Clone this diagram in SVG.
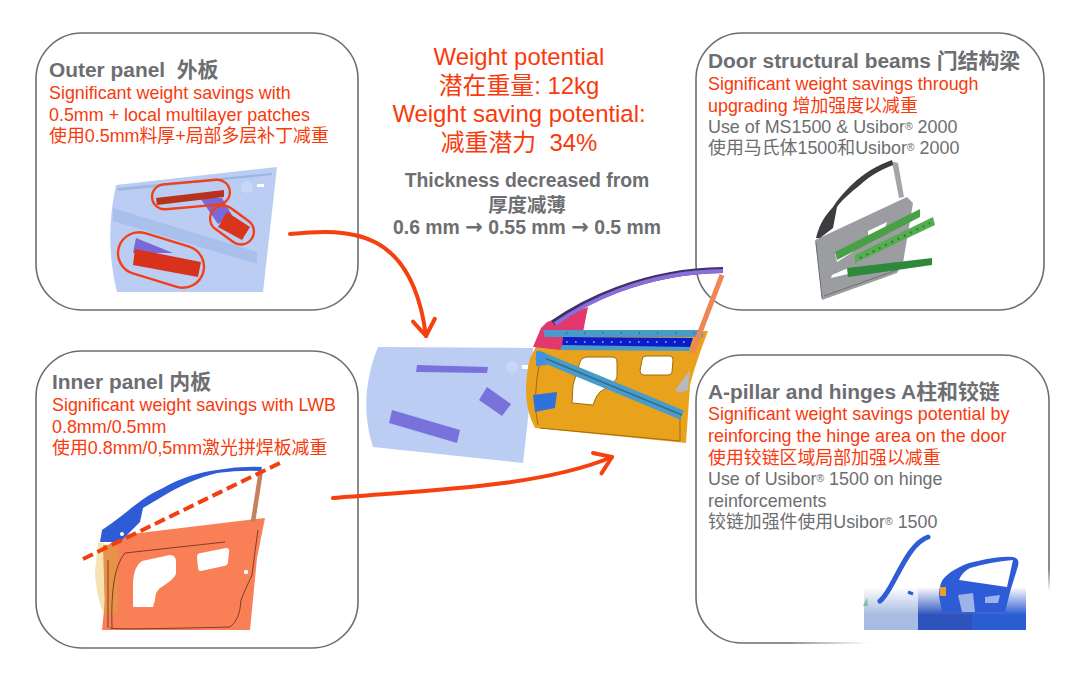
<svg xmlns="http://www.w3.org/2000/svg" width="1080" height="683" viewBox="0 0 1080 683">
<style>
text{font-family:"Liberation Sans","Noto Sans CJK SC",sans-serif}
.box{fill:#fff;stroke:#6d6e71;stroke-width:1.6}
.title{font-size:20.9px;font-weight:700;fill:#6d6e71}
.red{font-size:17.9px;fill:#f83a0c}
.gray{font-size:17.9px;fill:#6d6e71}
.big{font-size:23.9px;fill:#f83a0c;text-anchor:middle}
.thick{font-size:19.4px;font-weight:700;fill:#6d6e71;text-anchor:middle}
.arw{font-family:"DejaVu Sans",sans-serif;font-size:21px}
.sup{font-size:10.5px;baseline-shift:30%}
.ring{fill:none;stroke:#f0401a;stroke-width:2.4}
.conn{fill:none;stroke:#f5400f;stroke-width:4;stroke-linecap:round}
.img{filter:url(#soft)}
.hole{fill:#fff;stroke-linejoin:round}
</style>
<defs>
<filter id="soft" x="-5%" y="-5%" width="110%" height="110%"><feGaussianBlur stdDeviation="0.5"/></filter>
<marker id="chev" markerUnits="userSpaceOnUse" markerWidth="34" markerHeight="34" refX="22" refY="17" orient="auto">
<path d="M6,6 L22,17 L6,28" fill="none" stroke="#f5400f" stroke-width="4" stroke-linecap="round" stroke-linejoin="round"/>
</marker>
<linearGradient id="fadeStroke" gradientUnits="userSpaceOnUse" x1="800" y1="640" x2="806" y2="661">
<stop offset="0" stop-color="#6d6e71"/><stop offset="1" stop-color="#fff"/>
</linearGradient>
<linearGradient id="fadeTop" x1="0" y1="0" x2="0" y2="1">
<stop offset="0" stop-color="#fff" stop-opacity="1"/><stop offset="1" stop-color="#fff" stop-opacity="0"/>
</linearGradient>
</defs>

<g id="node-outer-panel">
<rect class="box" x="36" y="33" width="322" height="277" rx="46"/>
<g class="img">
<path d="M116,185 L277,167 Q270,230 263,292 L117,292 Q104,240 116,185Z" fill="#bccdf3"/>
<path d="M117,188 L272,173 L272,175 L118,191Z" fill="#9db7e2"/>
<path d="M113,208 L257,252 L257,264 L113,221Z" fill="#a9c0ea"/>
<circle cx="247" cy="187" r="6" fill="#c9d7f6"/>
<rect x="257" y="184" width="7" height="3" fill="#fff"/>
<path d="M200,198 L222,198 L232,215 L218,224Z" fill="#7a68d8"/>
<path d="M136,238 L173,253 L133,253Z" fill="#7a68d8"/>
<path d="M156,198 L224,190 L224,197 L157,205Z" fill="#b9301f"/>
<path d="M227,212 L250,227 L242,240 L218,227Z" fill="#d8351a"/>
<path d="M135,249 L201,262 L198,277 L133,265Z" fill="#d8301a"/>
</g>
<rect class="ring" x="152" y="182" width="78" height="25" rx="12.5" transform="rotate(-5 191 195)"/>
<rect class="ring" x="208" y="212" width="48" height="26" rx="13" transform="rotate(36 232 225)"/>
<rect class="ring" x="117" y="239" width="88" height="42" rx="21" transform="rotate(17 161 260)"/>
<text class="title" x="49" y="77" xml:space="preserve">Outer panel  外板</text>
<text class="red" x="49" y="99">Significant weight savings with</text>
<text class="red" x="49" y="121">0.5mm + local multilayer patches</text>
<text class="red" x="49" y="142">使用0.5mm料厚+局部多层补丁减重</text>
</g>

<g id="node-inner-panel">
<rect class="box" x="36" y="351" width="322" height="297" rx="46"/>
<g class="img">
<path d="M95,572 L98,542 L108,545 L107,612 L103,612 Q96,595 95,572Z" fill="#f6e3b4"/>
<path d="M102,630 L250,630 L257,558 L265,518 L123,535 L108,545 L105,600Z" fill="#f98057"/>
<path d="M103,545 L118,545 L118,612 L105,615Z" fill="#e8924a"/>
<path class="hole" d="M133,607 L133,582 Q134,566 142,561 L170,555 Q176,555 176,562 L176,573 Q176,578 160,588 Q155,592 155,600 L153,607Z"/>
<path class="hole" d="M197,557 Q197,553 201,553 L226,548 Q230,548 229,552 L228,562 Q228,565 224,566 L201,571 Q198,571 198,568Z"/>
<path d="M108,628 L108,560 M112,628 Q110,570 125,553 L225,542 M110,628 Q112,630 230,627 Q240,620 241,600 Q245,590 252,575 Q255,550 258,530" fill="none" stroke="#6e3524" stroke-width="0.9"/>
<path d="M253,522 L261,470" fill="none" stroke="#c4805f" stroke-width="4.5"/>
<path d="M102,530 C125,515 140,498 163,488 C180,478 200,472 217,470 Q240,466 262,467 L261,471 Q240,470 217,473 C200,477 185,484 170,492 L143,508 L140,522 L120,542 L100,542Z" fill="#2e5bd6"/>
<circle cx="122" cy="534" r="2" fill="#fff"/>
<circle cx="246" cy="572" r="2.2" fill="#fff"/>
</g>
<path d="M83,559 L282,462" fill="none" stroke="#f0400f" stroke-width="4" stroke-dasharray="11 5"/>
<text class="title" x="52" y="389">Inner panel 内板</text>
<text class="red" x="52" y="411">Significant weight savings with LWB</text>
<text class="red" x="52" y="433">0.8mm/0.5mm</text>
<text class="red" x="52" y="454">使用0.8mm/0,5mm激光拼焊板减重</text>
</g>

<g id="node-door-beams">
<rect class="box" x="696" y="33" width="348" height="277" rx="46"/>
<g class="img">
<path d="M890,161 L898,163 L904,197 L899,198 L893,167Z" fill="#a3a5a8"/>
<path d="M815,240 L907,197 L913,203 L903,263 L897,273 L822,300 L818,263Z" fill="#9b9da0"/>
<path d="M816,238 C820,222 826,215 833,207 C840,196 848,188 857,180 C868,171 878,165 892,160 L893,165 C880,170 870,176 860,185 C850,193 842,200 837,207 L833,228 L820,238Z" fill="#3c3d40"/>
<path class="hole" d="M835,254 L855,243 L853,252 L837,262Z M868,231 L887,222 L885,228 L868,236Z M832,275 L848,268 L848,274 L831,278Z"/>
<path d="M822,298 L818,262 L816,242 M824,296 L897,270" fill="none" stroke="#6f7174" stroke-width="1"/>
<path d="M835,252 L920,209 L920,217 L837,260Z" fill="#49a045"/>
<path d="M855,255 L933,217 L935,225 L855,263Z" fill="#55ad4f"/>
<path d="M860,258 L930,223" fill="none" stroke="#2f7a35" stroke-width="2" stroke-dasharray="2 5"/>
<path d="M847,268 L932,258 L932,265 L848,277Z" fill="#2f8a3a"/>
</g>
<text class="title" x="708" y="68">Door structural beams 门结构梁</text>
<text class="red" x="708" y="90">Significant weight savings through</text>
<text class="red" x="708" y="112">upgrading 增加强度以减重</text>
<text class="gray" x="708" y="133">Use of MS1500 &amp; Usibor<tspan class="sup">®</tspan> 2000</text>
<text class="gray" x="708" y="154">使用马氏体1500和Usibor<tspan class="sup">®</tspan> 2000</text>
</g>

<g id="node-a-pillar">
<rect class="box" style="stroke:url(#fadeStroke)" x="696" y="355" width="353" height="288" rx="46"/>
<g class="img">
<rect x="864" y="588" width="54" height="42" fill="#a9bbe3"/>
<rect x="918" y="588" width="54" height="42" fill="#2d53bd"/>
<rect x="972" y="588" width="54" height="42" fill="#2b5bd2"/>
<rect x="864" y="587" width="162" height="28" fill="url(#fadeTop)"/>
<path d="M880,601 C893,592 905,545 928,537" fill="none" stroke="#2e5bd6" stroke-width="5" stroke-linecap="round"/>
<path fill-rule="evenodd" d="M939,596 Q939,582 945,577 C952,570 965,563 978,561 Q1000,556 1013,557 Q1020,558 1018,566 L1010,592 L1005,612 L942,612Z M959,580 Q962,572 970,568 Q990,562 1013,560 L1007,587Z" fill="#2e5bd6"/>
<path d="M958,595 L973,593 L975,612 L962,612Z M985,597 L1000,595 L998,603 L985,603Z" fill="#9db2ea"/>
<rect x="940" y="587" width="6" height="9" fill="#e8a02a"/>
<path d="M908,592 L913,594" stroke="#2e5bd6" stroke-width="3"/>
<path d="M867,598 L868,606 L863,606Z" fill="#7fbf90"/>
</g>
<text class="title" x="708" y="399">A-pillar and hinges A柱和铰链</text>
<text class="red" x="708" y="420">Significant weight savings potential by</text>
<text class="red" x="708" y="442">reinforcing the hinge area on the door</text>
<text class="red" x="708" y="464">使用铰链区域局部加强以减重</text>
<text class="gray" x="708" y="485">Use of Usibor<tspan class="sup">®</tspan> 1500 on hinge</text>
<text class="gray" x="708" y="507">reinforcements</text>
<text class="gray" x="708" y="528">铰链加强件使用Usibor<tspan class="sup">®</tspan> 1500</text>
</g>

<g id="node-summary">
<text class="big" x="519" y="65">Weight potential</text>
<text class="big" x="519" y="94">潜在重量: 12kg</text>
<text class="big" x="519" y="122">Weight saving potential:</text>
<text class="big" x="519" y="151" xml:space="preserve">减重潜力  34%</text>
<text class="thick" x="527" y="187">Thickness decreased from</text>
<text class="thick" x="527" y="212">厚度减薄</text>
<text class="thick" x="527" y="234">0.6 mm <tspan class="arw">→</tspan> 0.55 mm <tspan class="arw">→</tspan> 0.5 mm</text>
</g>

<g id="node-door-assembly" class="img">
<path d="M378,347 L533,348 L532,383 L523,463 L373,447 Q364,420 367,390 Q370,365 378,347Z" fill="#bccdf3"/>
<path d="M417,365 L488,367 L487,373 L416,372Z M487,387 L511,404 L502,416 L479,400Z M392,410 L460,430 L457,443 L389,423Z" fill="#7a72dc"/>
<circle cx="512" cy="367" r="6" fill="#c9d7f6"/>
<rect x="522" y="365" width="6" height="4" fill="#fff"/>
<path d="M535,428 Q520,400 530,358 L545,330 L708,331 Q695,365 690,385 L686,443Z" fill="#e8a21e"/>
<path d="M547,322 L588,307 L583,332 L560,350 L533,347 L541,328Z" fill="#e2386e"/>
<path class="hole" stroke="#a06c10" stroke-width="1" d="M580,362 Q582,357 588,357 L612,357 Q617,357 617,362 L617,377 Q617,381 600,392 Q596,396 595,400 L593,405 L572,403 L573,385Z"/>
<path class="hole" stroke="#a06c10" stroke-width="1" d="M642,360 Q642,356 646,356 L670,356 Q673,356 673,360 L672,372 Q672,375 668,375 L644,375 Q640,375 640,371Z"/>
<path d="M538,425 Q532,400 540,360 M540,428 L680,441 L680,415" fill="none" stroke="#a06c10" stroke-width="1"/>
<path d="M563,337 L693,338 L690,347 L562,347Z" fill="#0c1fc8"/>
<path d="M566,342 L690,342" fill="none" stroke="#9fb7ff" stroke-width="1.6" stroke-dasharray="1.6 7.4"/>
<path d="M543,330 L703,330 L703,337 L545,337Z" fill="#4a9cc9"/>
<path d="M566,333 L700,333" fill="none" stroke="#1a3f6a" stroke-width="1.2" stroke-dasharray="1.2 17"/>
<path d="M562,345 L691,347 L689,351 L560,350Z" fill="#4a9cc9"/>
<path d="M553,323 C580,304 640,271 723,270" fill="none" stroke="#3c3268" stroke-width="6"/>
<path d="M555,324 C582,305 640,272 723,271" fill="none" stroke="#8b6ddb" stroke-width="4"/>
<path d="M722,275 L692,353" fill="none" stroke="#ef8654" stroke-width="5"/>
<path d="M537,355 L682,415" fill="none" stroke="#4a9cc9" stroke-width="10"/>
<path d="M537,355 L682,415" fill="none" stroke="#2f6e92" stroke-width="1.6"/>
<path d="M536,351 L545,353 L547,365 L536,366Z" fill="#3f8fe0"/>
<path d="M533,395 L557,392 L555,408 L535,412Z" fill="#2f72dc"/>
<path d="M675,390 L690,370 L688,390 L680,393Z" fill="#b9b9b9"/>
</g>

<g id="connectors">
<path class="conn" marker-end="url(#chev)" d="M290,234 C350,228 412,228 426,336"/>
<path class="conn" marker-end="url(#chev)" d="M333,498 C430,490 540,487 612,457"/>
</g>
</svg>
